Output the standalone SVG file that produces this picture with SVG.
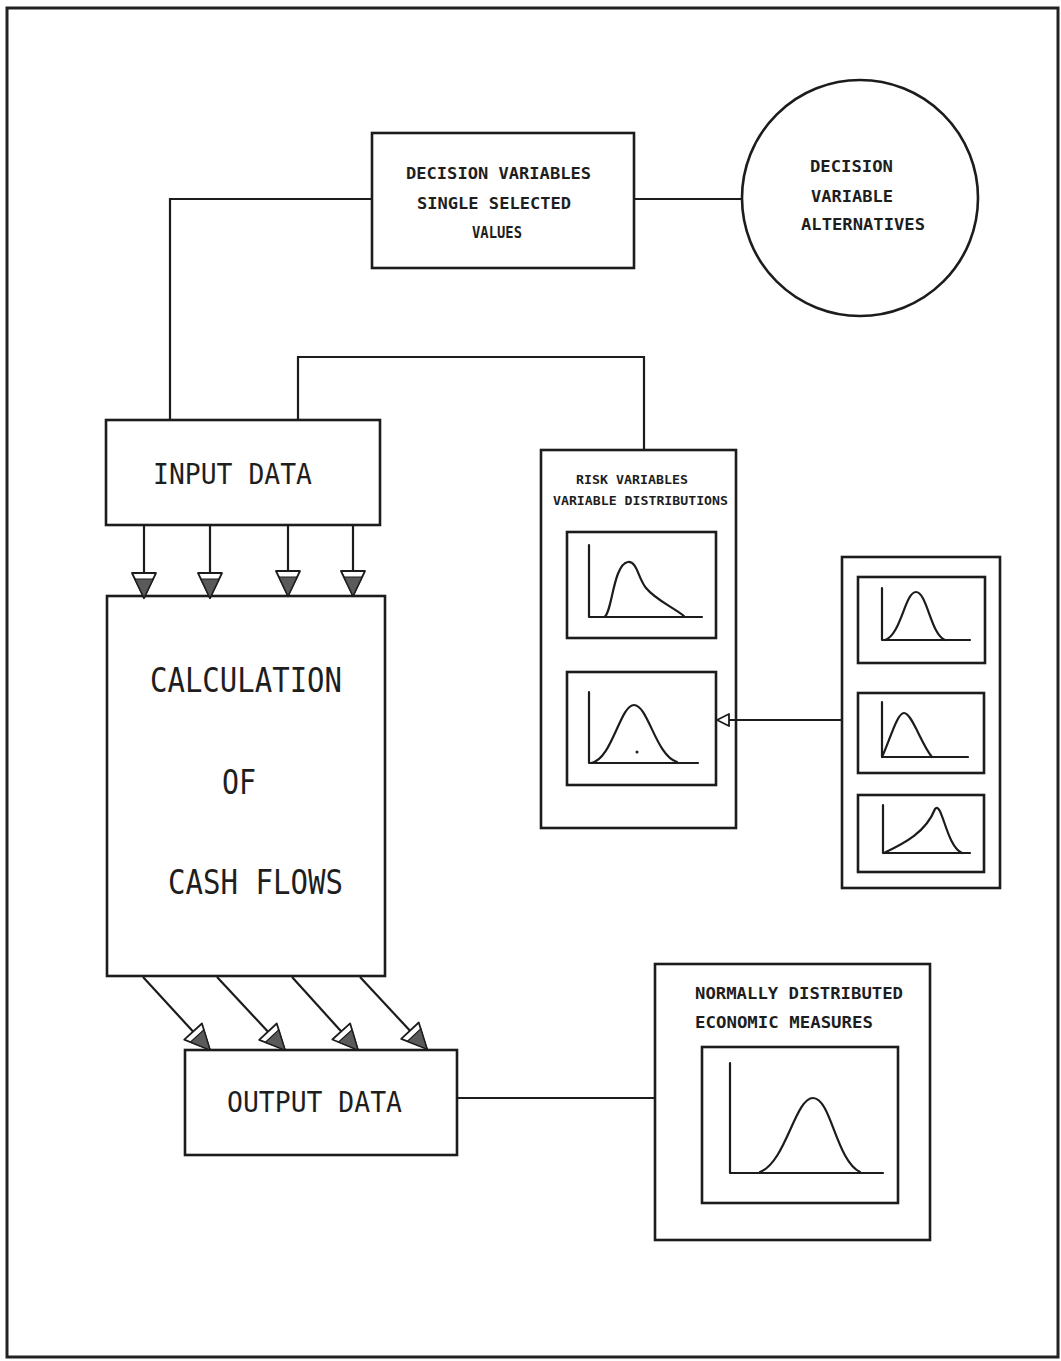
<svg xmlns="http://www.w3.org/2000/svg" width="1061" height="1361" viewBox="0 0 1061 1361">
<style>
.b{fill:none;stroke:#1c1c1c;stroke-width:2.6}
.w{fill:#fff;stroke:#1c1c1c;stroke-width:2.6}
.c{fill:none;stroke:#1c1c1c;stroke-width:2.2;stroke-linejoin:round;stroke-linecap:round}
.ln{fill:none;stroke:#1c1c1c;stroke-width:2.2}
.t{font-family:"DejaVu Sans Mono","Liberation Mono",monospace;fill:#1e1e1e;}
.s{font-size:16.5px;font-weight:bold}
.r{font-size:12.5px;font-weight:bold}
.L{font-size:29px}
.XL{font-size:33px}
</style>
<defs>
<marker id="ah" markerUnits="userSpaceOnUse" viewBox="-28 -15 31 30" markerWidth="31" markerHeight="30" refX="0" refY="0" orient="auto">
<polygon points="0,0 -25,-12 -25,12" fill="#fff" stroke="#1c1c1c" stroke-width="1.8" stroke-linejoin="round"/>
<polygon points="0,0 -19,-9.1 -19,9.1" fill="#5a5a5a" stroke="#1c1c1c" stroke-width="1.2"/>
</marker>
<marker id="oh" markerUnits="userSpaceOnUse" viewBox="-14 -8 16 16" markerWidth="16" markerHeight="16" refX="0" refY="0" orient="auto">
<polygon points="0,0 -12,-6 -12,6" fill="#fff" stroke="#1c1c1c" stroke-width="1.8" stroke-linejoin="round"/>
</marker>
</defs>
<rect x="0" y="0" width="1061" height="1361" fill="#fff"/>
<rect x="7" y="8" width="1051" height="1349" fill="none" stroke="#222" stroke-width="3"/>

<g id="decision-values">
<rect class="w" x="372" y="133" width="262" height="135"/>
<text class="t s" x="406" y="179" textLength="185" lengthAdjust="spacingAndGlyphs">DECISION VARIABLES</text>
<text class="t s" x="417" y="209" textLength="154" lengthAdjust="spacingAndGlyphs">SINGLE SELECTED</text>
<text class="t s" x="472" y="238" textLength="50" lengthAdjust="spacingAndGlyphs">VALUES</text>
</g>

<g id="decision-alternatives">
<circle class="w" cx="860" cy="198" r="118"/>
<text class="t s" x="810" y="172" textLength="83" lengthAdjust="spacingAndGlyphs">DECISION</text>
<text class="t s" x="811" y="202" textLength="82" lengthAdjust="spacingAndGlyphs">VARIABLE</text>
<text class="t s" x="801" y="230" textLength="124" lengthAdjust="spacingAndGlyphs">ALTERNATIVES</text>
</g>

<g id="input-data">
<rect class="w" x="106" y="420" width="274" height="105"/>
<text class="t L" x="153" y="484" textLength="159" lengthAdjust="spacingAndGlyphs">INPUT DATA</text>
</g>

<g id="calculation">
<rect class="w" x="107" y="596" width="278" height="380"/>
<text class="t XL" x="150" y="692" textLength="192" lengthAdjust="spacingAndGlyphs">CALCULATION</text>
<text class="t XL" x="222" y="794" textLength="34" lengthAdjust="spacingAndGlyphs">OF</text>
<text class="t XL" x="168" y="894" textLength="175" lengthAdjust="spacingAndGlyphs">CASH FLOWS</text>
</g>

<g id="output-data">
<rect class="w" x="185" y="1050" width="272" height="105"/>
<text class="t L" x="227" y="1112" textLength="175" lengthAdjust="spacingAndGlyphs">OUTPUT DATA</text>
</g>

<g id="risk-variables">
<rect class="w" x="541" y="450" width="195" height="378"/>
<text class="t r" x="576" y="484" textLength="112" lengthAdjust="spacingAndGlyphs">RISK VARIABLES</text>
<text class="t r" x="553" y="505" textLength="175" lengthAdjust="spacingAndGlyphs">VARIABLE DISTRIBUTIONS</text>
<rect class="b" x="567" y="532" width="149" height="106"/>
<polyline class="c" points="589,545 589,617 702,617"/>
<path class="c" d="M604,617 C612,615 613,564 628,562 C637,561 638,578 646,588 C656,600 671,606 684,616"/>
<rect class="b" x="567" y="672" width="149" height="113"/>
<polyline class="c" points="589,692 589,763 698,763"/>
<path class="c" d="M591,763 C612,760 620,705 634,705 C648,705 656,756 677,762"/>
<circle cx="637" cy="752" r="1.5" fill="#1c1c1c"/>
</g>

<g id="distribution-set">
<rect class="w" x="842" y="557" width="158" height="331"/>
<rect class="b" x="858" y="577" width="127" height="86"/>
<polyline class="c" points="882,588 882,640 970,640"/>
<path class="c" d="M885,640 C901,635 905,592 916,592 C927,592 931,635 945,640"/>
<rect class="b" x="858" y="693" width="126" height="80"/>
<polyline class="c" points="882,702 882,757 968,757"/>
<path class="c" d="M882,757 C890,740 897,713 904,713 C912,713 921,744 932,757"/>
<rect class="b" x="858" y="795" width="126" height="77"/>
<polyline class="c" points="883,805 883,853 970,853"/>
<path class="c" d="M884,853 C905,843 926,832 935,809 C942,800 946,846 962,853"/>
</g>

<g id="economic-measures">
<rect class="w" x="655" y="964" width="275" height="276"/>
<text class="t s" x="695" y="999" textLength="208" lengthAdjust="spacingAndGlyphs">NORMALLY DISTRIBUTED</text>
<text class="t s" x="695" y="1028" textLength="178" lengthAdjust="spacingAndGlyphs">ECONOMIC MEASURES</text>
<rect class="b" x="702" y="1047" width="196" height="156"/>
<polyline class="c" points="730,1063 730,1173 883,1173"/>
<path class="c" d="M760,1172 C786,1162 795,1098 813,1098 C831,1098 836,1160 860,1172"/>
</g>

<g id="connectors">
<polyline class="ln" points="372,199 170,199 170,420"/>
<line class="ln" x1="634" y1="199" x2="741" y2="199"/>
<polyline class="ln" points="298,420 298,357 644,357 644,450"/>
<line class="ln" x1="144" y1="525" x2="144" y2="598" marker-end="url(#ah)"/>
<line class="ln" x1="210" y1="525" x2="210" y2="598" marker-end="url(#ah)"/>
<line class="ln" x1="288" y1="525" x2="288" y2="596" marker-end="url(#ah)"/>
<line class="ln" x1="353" y1="525" x2="353" y2="596" marker-end="url(#ah)"/>
<line class="ln" x1="143" y1="977" x2="210" y2="1050" marker-end="url(#ah)"/>
<line class="ln" x1="217" y1="977" x2="285" y2="1050" marker-end="url(#ah)"/>
<line class="ln" x1="292" y1="977" x2="358" y2="1050" marker-end="url(#ah)"/>
<line class="ln" x1="360" y1="977" x2="427" y2="1049" marker-end="url(#ah)"/>
<line class="ln" x1="842" y1="720" x2="717" y2="720" marker-end="url(#oh)"/>
<line class="ln" x1="457" y1="1098" x2="655" y2="1098"/>
</g>
</svg>
